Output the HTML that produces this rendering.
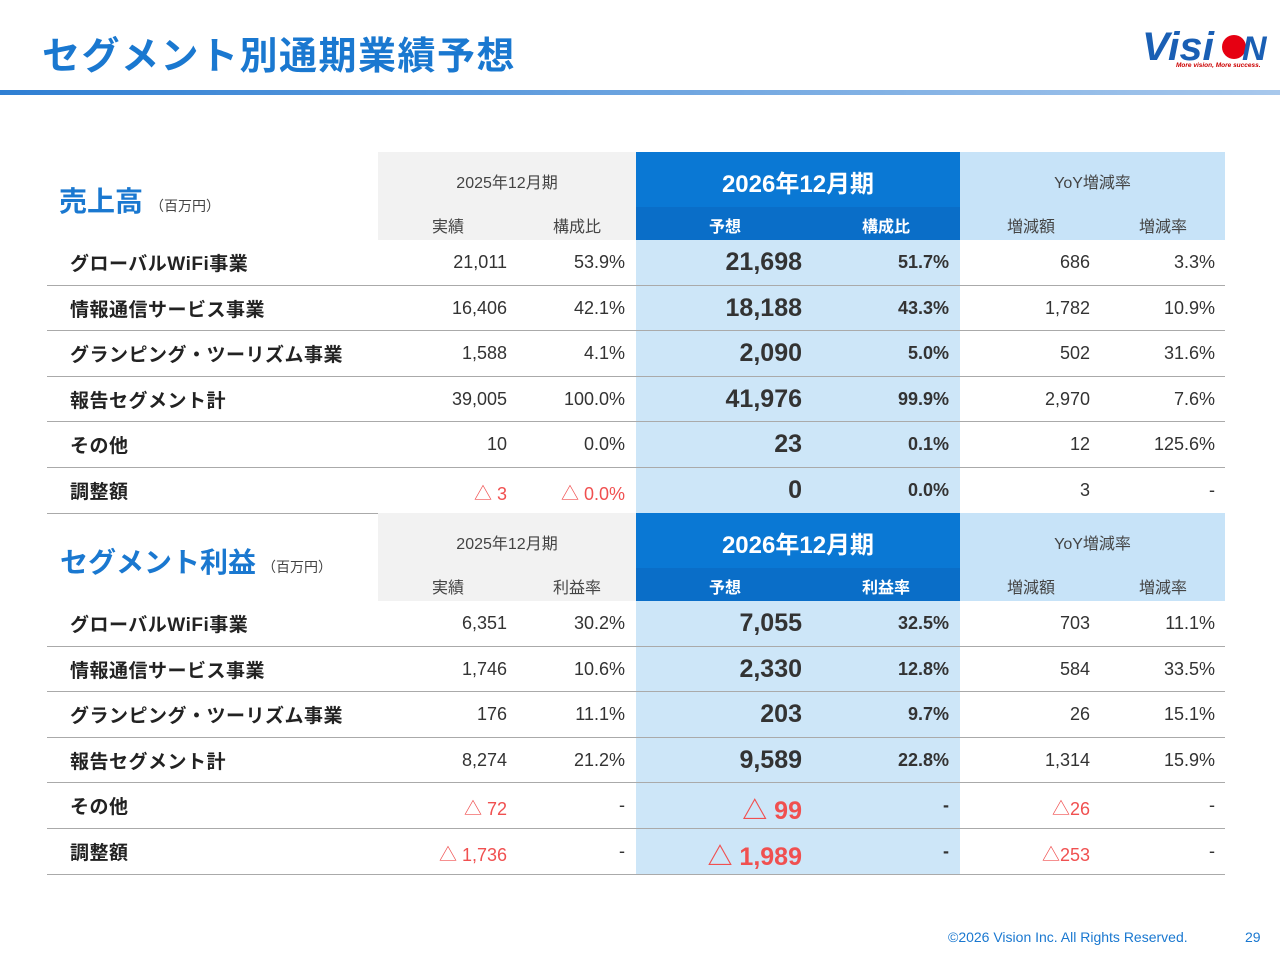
<!DOCTYPE html>
<html><head><meta charset="utf-8">
<style>
body{margin:0;width:1280px;height:960px;background:#fff;position:relative;overflow:hidden;font-family:"Liberation Sans","Noto Sans CJK JP",sans-serif;}
.a{position:absolute;box-sizing:border-box;}
.t{position:absolute;white-space:nowrap;}
</style></head><body>
<div class="t" style="left:42px;top:25px;font-size:38px;font-weight:bold;color:#1a78d0;letter-spacing:1.5px;">セグメント別通期業績予想</div>
<div class="a" style="left:0;top:90px;width:1280px;height:5px;background:linear-gradient(90deg,#2f7fd3,#a8c8ec);"></div>
<div class="a" style="left:1140px;top:26px;width:135px;height:48px;">
<svg width="135" height="48"><text x="2" y="34" font-family="Liberation Sans" font-weight="bold" font-style="italic" font-size="40" fill="#1a5fb4" textLength="72" lengthAdjust="spacingAndGlyphs">Visi</text><circle cx="94" cy="21" r="12" fill="#e60012"/><text x="102" y="34" font-family="Liberation Sans" font-weight="bold" font-style="italic" font-size="34" fill="#1a5fb4">N</text><text x="36" y="41" font-family="Liberation Sans" font-weight="bold" font-style="italic" font-size="6.5" fill="#c00">More vision, More success.</text></svg></div>
<div id="root"></div>
<div class="t" style="left:948px;top:929px;font-size:14px;color:#1a78d0;">©2026 Vision Inc. All Rights Reserved.</div>
<div class="t" style="left:1245px;top:929px;font-size:14px;color:#1a78d0;">29</div>
<script>
const sections=[
{title:"売上高",top:152,sub:["実績","構成比","予想","構成比","増減額","増減率"],
rows:[["グローバルWiFi事業","21,011","53.9%","21,698","51.7%","686","3.3%"],
["情報通信サービス事業","16,406","42.1%","18,188","43.3%","1,782","10.9%"],
["グランピング・ツーリズム事業","1,588","4.1%","2,090","5.0%","502","31.6%"],
["報告セグメント計","39,005","100.0%","41,976","99.9%","2,970","7.6%"],
["その他","10","0.0%","23","0.1%","12","125.6%"],
["調整額","△ 3","△ 0.0%","0","0.0%","3","-"]]},
{title:"セグメント利益",top:513,sub:["実績","利益率","予想","利益率","増減額","増減率"],
rows:[["グローバルWiFi事業","6,351","30.2%","7,055","32.5%","703","11.1%"],
["情報通信サービス事業","1,746","10.6%","2,330","12.8%","584","33.5%"],
["グランピング・ツーリズム事業","176","11.1%","203","9.7%","26","15.1%"],
["報告セグメント計","8,274","21.2%","9,589","22.8%","1,314","15.9%"],
["その他","△ 72","-","△ 99","-","△26","-"],
["調整額","△ 1,736","-","△ 1,989","-","△253","-"]]}];
const root=document.getElementById('root');
function el(css,txt){const d=document.createElement('div');d.className=txt===undefined?'a':'t';d.style.cssText=css;if(txt!==undefined)d.textContent=txt;root.appendChild(d);return d;}
const rights=[507,625,802,949,1090,1215];
const subCenters=[448,577,725,886,1031,1163];
sections.forEach((s,si)=>{
const T=s.top;
let e;
e=el(`left:378px;top:${T}px;width:258px;height:88px;background:#f2f2f2;`);

e=el(`left:636px;top:${T}px;width:324px;height:55px;background:#0a78d4;`);

e=el(`left:636px;top:${T+55}px;width:324px;height:33px;background:#0a6ec8;`);

e=el(`left:960px;top:${T}px;width:265px;height:88px;background:#c7e3f8;`);

e=el(`left:636px;top:${T+88}px;width:324px;height:${6*45.6}px;background:#cde6f8;`);

e=el(`left:${si?60:59}px;top:${T+28}px;font-size:28px;font-weight:bold;color:#1a78d0;`,s.title);

e=el(`left:${si?262:150}px;top:${T+44}px;font-size:14px;color:#444;`,"（百万円）");

e=el(`left:378px;top:${T+17}px;width:258px;text-align:center;font-size:16px;color:#444;`,"2025年12月期");

e=el(`left:636px;top:${T+12}px;width:324px;text-align:center;font-size:24px;font-weight:bold;color:#fff;`,"2026年12月期");

e=el(`left:960px;top:${T+17}px;width:265px;text-align:center;font-size:16px;color:#444;`,"YoY増減率");

s.sub.forEach((h,i)=>{
e=el(`left:${subCenters[i]-50}px;top:${T+61}px;width:100px;text-align:center;font-size:16px;color:${(i==2||i==3)?'#fff':'#444'};font-weight:${(i==2||i==3)?'bold':'normal'};`,h);

});
s.rows.forEach((r,ri)=>{
const y=T+88+ri*45.6;
e=el(`left:47px;top:${y+44.6}px;width:1178px;height:1px;background:#aaa;`);

e=el(`left:70px;top:${y+9}px;font-size:19px;letter-spacing:0.5px;font-weight:bold;color:#222;`,r[0]);

for(let c=1;c<7;c++){
const v=r[c];const neg=v.startsWith('△');const big=c==3;const bold=c==3||c==4;
e=el(`right:${1280-rights[c-1]}px;top:${y+(big?8:12)}px;font-size:${big?25:18}px;font-weight:${bold?'bold':'normal'};color:${neg?'#f05050':'#333'};`,v);

}
});
});
</script>
</body></html>
